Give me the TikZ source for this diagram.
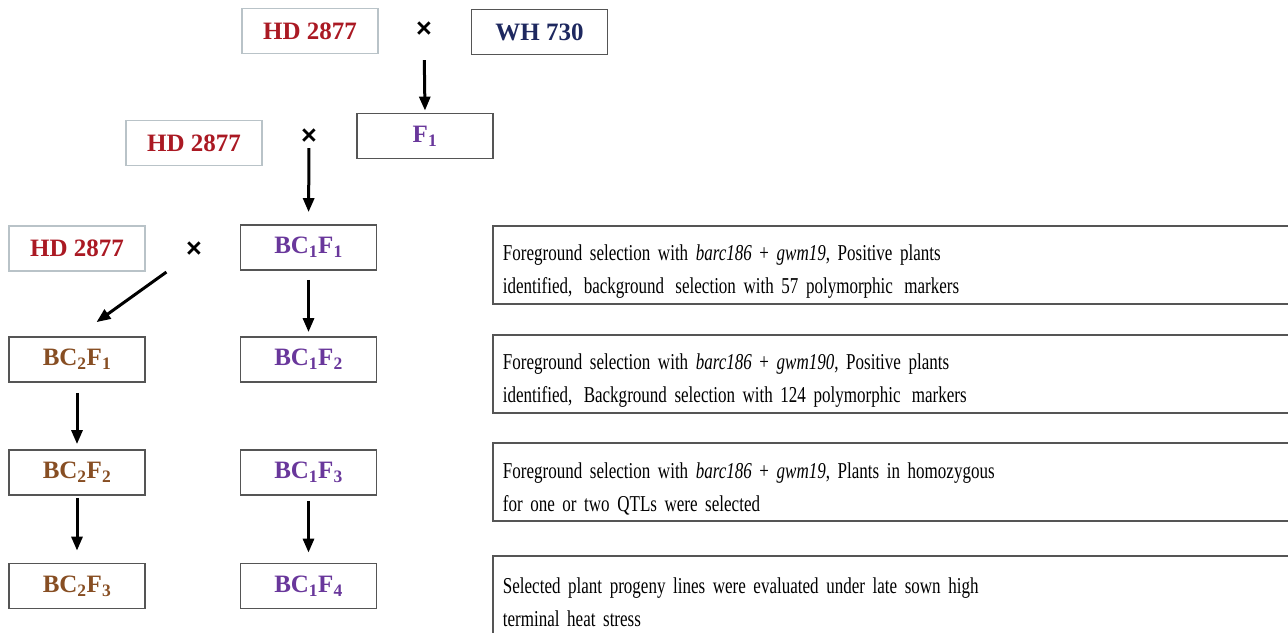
\documentclass[tikz,border=0pt]{standalone}
\usepackage{fontspec}
\setmainfont{Liberation Serif}
\newfontfamily\descfont[FakeStretch=0.75,WordSpace=0.72]{Liberation Serif}
\newfontfamily\crossfont{Liberation Sans}
\usetikzlibrary{arrows.meta}

\definecolor{parentred}{RGB}{170,25,35}
\definecolor{donorblue}{RGB}{30,40,95}
\definecolor{bcpurple}{RGB}{105,55,155}
\definecolor{bcbrown}{RGB}{135,78,35}
\definecolor{lightframe}{RGB}{185,195,200}
\definecolor{darkframe}{RGB}{85,85,85}

\tikzset{
  genbox/.style={draw=darkframe, line width=1.8pt, minimum width=136pt, minimum height=45pt,
    inner sep=0pt, font=\bfseries\fontsize{25}{30}\selectfont},
  recurrent/.style={genbox, draw=lightframe, text=parentred},
  descbox/.style={draw=darkframe, line width=1.8pt, anchor=north west, minimum width=820pt,
    minimum height=78pt, inner xsep=6pt, inner ysep=4pt, align=left, text width=800pt,
    font={\descfont\fontsize{22.7}{33}\selectfont}, execute at begin node={\rule{0pt}{30pt}}},
  crossmark/.style={inner sep=0pt, font=\crossfont\bfseries\fontsize{27}{27}\selectfont},
  conn/.style={-{Triangle[length=14pt,width=11pt]}, line width=3pt, shorten >=6pt, shorten <=6pt}
}

\begin{document}
\begin{tikzpicture}[x=1pt,y=-1pt]
  \useasboundingbox (0,0) rectangle (1288,632);
  \clip (0,0) rectangle (1288,632);

  % crossing and backcrossing
  \node[recurrent] (hdA) at (310,31) {HD 2877};
  \node[crossmark] (crossA) at (424,30) {×};
  \node[genbox, text=donorblue] (wh) at (539.5,32) {WH 730};
  \node[genbox, text=bcpurple] (f1) at (425,136) {F\textsubscript{1}};
  \node[recurrent] (hdB) at (194,143) {HD 2877};
  \node[crossmark] (crossB) at (309,137) {×};
  \node[genbox, text=bcpurple] (bc11) at (308.5,247.5) {BC\textsubscript{1}F\textsubscript{1}};
  \node[recurrent] (hdC) at (77,248.5) {HD 2877};
  \node[crossmark] (crossC) at (194,250) {×};

  % generations
  \node[genbox, text=bcbrown] (bc21) at (77,359.5) {BC\textsubscript{2}F\textsubscript{1}};
  \node[genbox, text=bcpurple] (bc12) at (308.5,359.5) {BC\textsubscript{1}F\textsubscript{2}};
  \node[genbox, text=bcbrown] (bc22) at (77,472.5) {BC\textsubscript{2}F\textsubscript{2}};
  \node[genbox, text=bcpurple] (bc13) at (308.5,472.5) {BC\textsubscript{1}F\textsubscript{3}};
  \node[genbox, text=bcbrown] (bc23) at (77,586) {BC\textsubscript{2}F\textsubscript{3}};
  \node[genbox, text=bcpurple] (bc14) at (308.5,586) {BC\textsubscript{1}F\textsubscript{4}};

  % arrows
  \draw[conn, shorten <=22pt, shorten >=2pt] (crossA.south) -- (f1.north);
  \draw[conn, shorten <=3pt, shorten >=12pt] (crossB.south) -- (bc11.north);
  \draw[conn, shorten <=24pt, shorten >=24pt] (crossC.south west) -- (bc21.north);
  \draw[conn, shorten <=9pt, shorten >=4pt] (bc11) -- (bc12);
  \draw[conn, shorten <=10pt, shorten >=5pt] (bc21) -- (bc22);
  \draw[conn, shorten <=2pt, shorten >=12pt] (bc22) -- (bc23);
  \draw[conn, shorten <=5pt, shorten >=10pt] (bc13) -- (bc14);

  % selection notes
  \node[descbox] (noteA) at (492,225) {Foreground selection with \textit{barc186} + \textit{gwm19}, Positive plants\\identified,\, background\, selection with 57 polymorphic\, markers};
  \node[descbox] (noteB) at (492,334) {Foreground selection with \textit{barc186} + \textit{gwm190}, Positive plants\\identified,\, Background selection with 124 polymorphic\, markers};
  \node[descbox] (noteC) at (492,442) {Foreground selection with \textit{barc186} + \textit{gwm19}, Plants in homozygous\\for one or two QTLs were selected};
  \node[descbox] (noteD) at (492,555) {Selected plant progeny lines were evaluated under late sown high\\terminal heat stress};
\end{tikzpicture}
\end{document}
